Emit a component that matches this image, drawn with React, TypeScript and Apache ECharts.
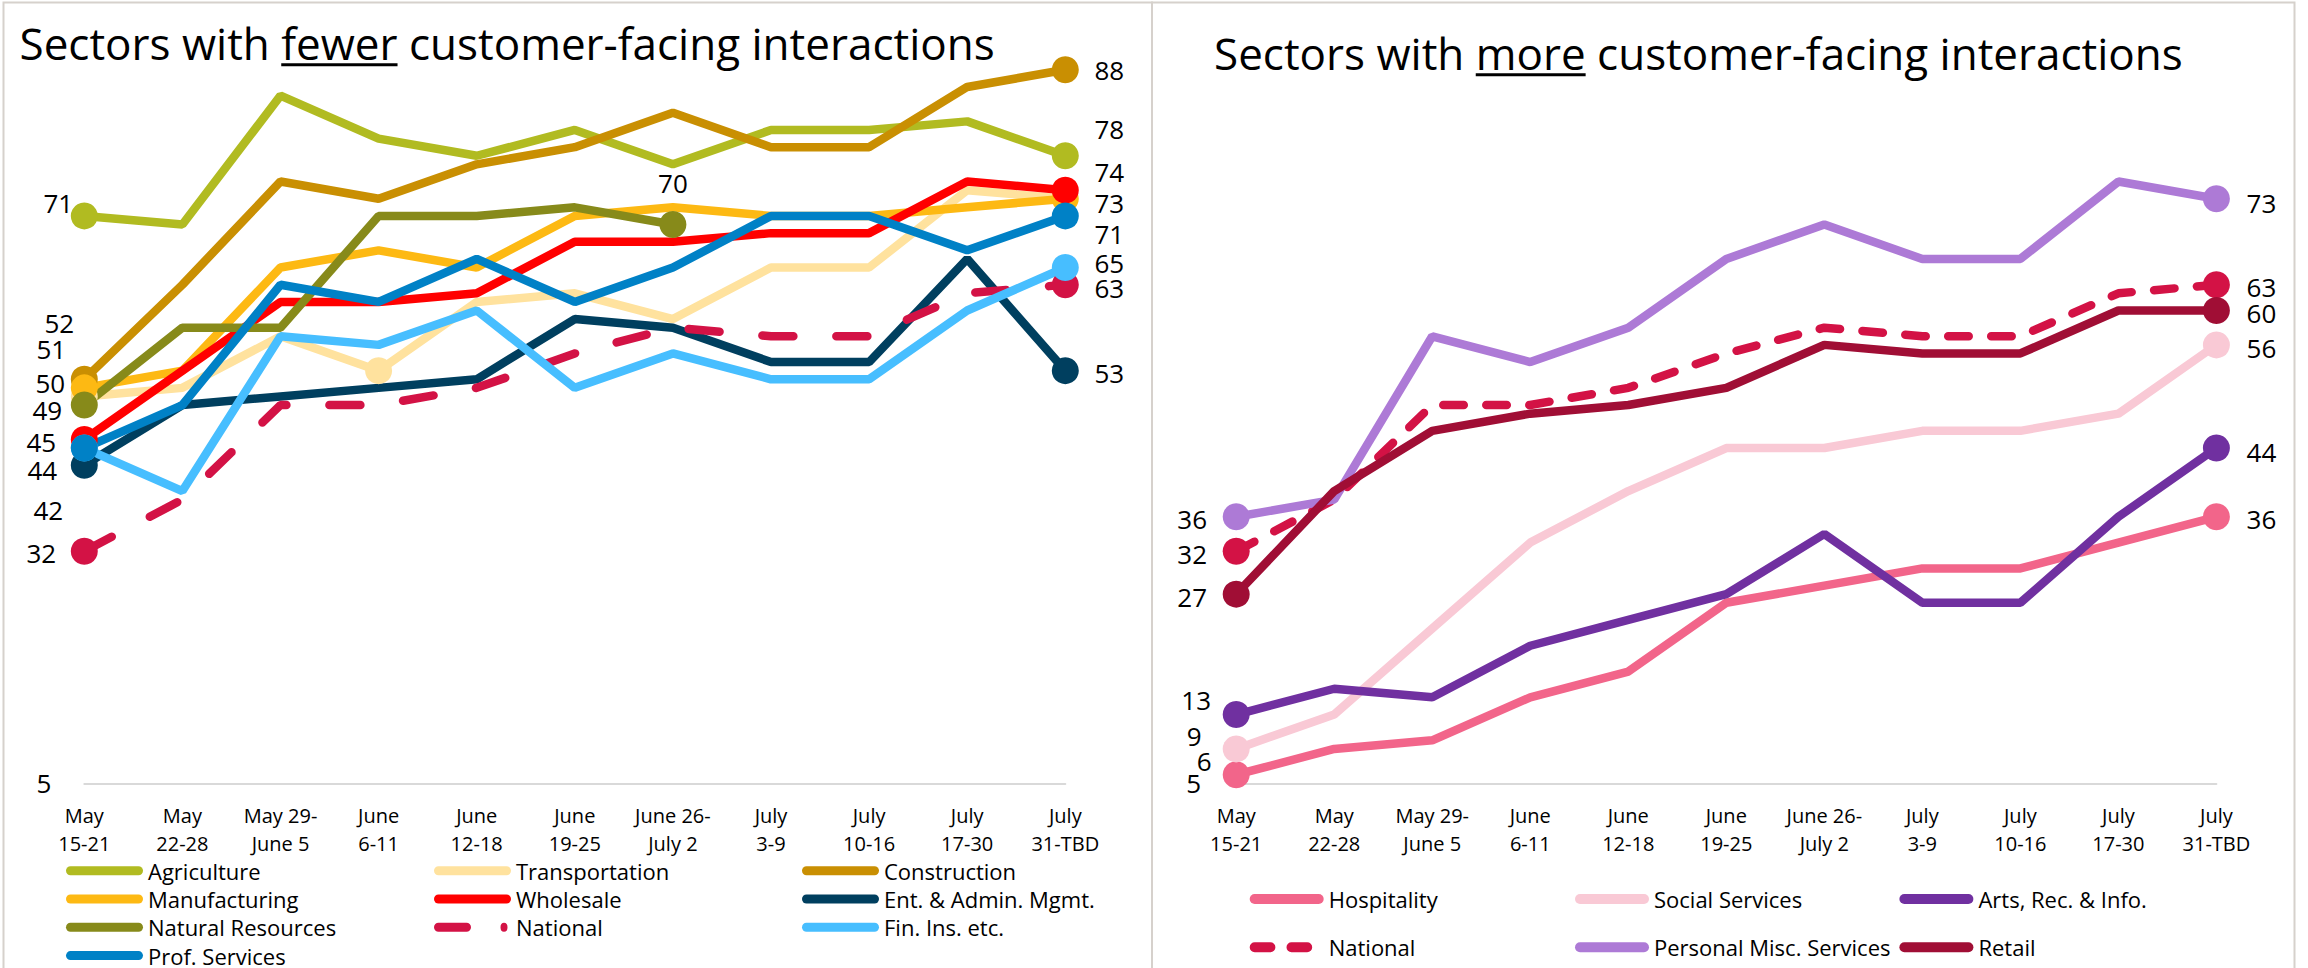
import React, { useEffect, useRef } from 'react';
import * as echarts from 'echarts';

// ---------- data ----------
const categories = [
  'May\n15-21', 'May\n22-28', 'May 29-\nJune 5', 'June\n6-11', 'June\n12-18', 'June\n19-25',
  'June 26-\nJuly 2', 'July\n3-9', 'July\n10-16', 'July\n17-30', 'July\n31-TBD',
];
const yTickLabels = [5];

// left panel: sectors with fewer customer-facing interactions
const agriculture = [71, 70, 85, 80, 78, 81, 77, 81, 81, 82, 78];
const transportation = [50, 51, 57, 53, 61, 62, 59, 65, 65, 74, 73];
const construction = [52, 63, 75, 73, 77, 79, 83, 79, 79, 86, 88];
const manufacturing = [51, 53, 65, 67, 65, 71, 72, 71, 71, 72, 73];
const wholesale = [45, 53, 61, 61, 62, 68, 68, 69, 69, 75, 74];
const entAdmin = [42, 49, 50, 51, 52, 59, 58, 54, 54, 66, 53];
const naturalResources = [49, 58, 58, 71, 71, 72, 70, null, null, null, null];
const national = [32, 38, 49, 49, 51, 55, 58, 57, 57, 62, 63];
const finIns = [44, 39, 57, 56, 60, 51, 55, 52, 52, 60, 65];
const profServices = [44, 49, 63, 61, 66, 61, 65, 71, 71, 67, 71];

// right panel: sectors with more customer-facing interactions
const hospitality = [6, 9, 10, 15, 18, 26, 28, 30, 30, 33, 36];
const socialServices = [9, 13, 23, 33, 39, 44, 44, 46, 46, 48, 56];
const artsRecInfo = [13, 16, 15, 21, 24, 27, 34, 26, 26, 36, 44];
const personalMisc = [36, 38, 57, 54, 58, 66, 70, 66, 66, 75, 73];
const retail = [27, 39, 46, 48, 49, 51, 56, 55, 55, 60, 60];

// ---------- styling ----------
const FONT = '"Open Sans", "Noto Sans", sans-serif';
const LINE_W = 8.5;
const MARK = 27;

type Mark = { i: number; dx?: number; dy?: number; label?: boolean };
type Spec = { name: string; data: (number | null)[]; color: string; dash?: number[]; marks: Mark[] };

const leftSpecs: Spec[] = [
  { name: 'Agriculture', data: agriculture, color: '#B1BB21', marks: [{ i: 0, dx: -26, dy: -13 }, { i: 10, dx: 44, dy: -27 }] },
  { name: 'Transportation', data: transportation, color: '#FFE29E', marks: [{ i: 0, dx: -34, dy: -13 }, { i: 3, label: false }] },
  { name: 'Construction', data: construction, color: '#C98F02', marks: [{ i: 0, dx: -25, dy: -56 }, { i: 10, dx: 44, dy: 0 }] },
  { name: 'Manufacturing', data: manufacturing, color: '#FDB913', marks: [{ i: 0, dx: -33, dy: -39 }, { i: 10, dx: 44, dy: 4 }] },
  { name: 'Wholesale', data: wholesale, color: '#FF0000', marks: [{ i: 0, dx: -43, dy: 3 }, { i: 10, dx: 44, dy: -18 }] },
  { name: 'Ent. & Admin. Mgmt.', data: entAdmin, color: '#003F5F', marks: [{ i: 0, dx: -36, dy: 45 }, { i: 10, dx: 44, dy: 2 }] },
  { name: 'Natural Resources', data: naturalResources, color: '#878A1A', marks: [{ i: 0, dx: -37, dy: 5 }, { i: 6, dx: 0, dy: -42 }] },
  { name: 'National', data: national, color: '#D31245', dash: [31, 43], marks: [{ i: 0, dx: -43, dy: 2 }, { i: 10, dx: 44, dy: 3 }] },
  { name: 'Fin. Ins. etc.', data: finIns, color: '#47BEFF', marks: [{ i: 0, label: false }, { i: 10, dx: 44, dy: -5 }] },
  { name: 'Prof. Services', data: profServices, color: '#0081C6', marks: [{ i: 0, dx: -42, dy: 22 }, { i: 10, dx: 44, dy: 18 }] },
];

const rightSpecs: Spec[] = [
  { name: 'Hospitality', data: hospitality, color: '#F2658A', marks: [{ i: 0, dx: -32, dy: -14 }, { i: 10, dx: 45, dy: 2 }] },
  { name: 'Social Services', data: socialServices, color: '#F9C9D5', marks: [{ i: 0, dx: -42, dy: -13 }, { i: 10, dx: 45, dy: 3 }] },
  { name: 'Arts, Rec. & Info.', data: artsRecInfo, color: '#7030A0', marks: [{ i: 0, dx: -40, dy: -15 }, { i: 10, dx: 45, dy: 4 }] },
  { name: 'National', data: national, color: '#D31245', dash: [20.5, 22.5], marks: [{ i: 0, dx: -44, dy: 3 }, { i: 10, dx: 45, dy: 2 }] },
  { name: 'Personal Misc. Services', data: personalMisc, color: '#AD7AD6', marks: [{ i: 0, dx: -44, dy: 2 }, { i: 10, dx: 45, dy: 4 }] },
  { name: 'Retail', data: retail, color: '#A00E35', marks: [{ i: 0, dx: -44, dy: 3 }, { i: 10, dx: 45, dy: 3 }] },
];

const leftLegendCols = [
  ['Agriculture', 'Manufacturing', 'Natural Resources', 'Prof. Services'],
  ['Transportation', 'Wholesale', 'National'],
  ['Construction', 'Ent. & Admin. Mgmt.', 'Fin. Ins. etc.'],
];
const rightLegendCols = [
  ['Hospitality', 'National'],
  ['Social Services', 'Personal Misc. Services'],
  ['Arts, Rec. & Info.', 'Retail'],
];

const ICON_L = 'path://M4.5,0H72.5A4.5,4.5,0,0,1,72.5,9H4.5A4.5,4.5,0,0,1,4.5,0Z';
const ICON_L_NAT = 'path://M4.5,0H32.5A4.5,4.5,0,0,1,32.5,9H4.5A4.5,4.5,0,0,1,4.5,0ZM70,0A3.5,4.5,0,0,1,70,9A3.5,4.5,0,0,1,70,0ZM77,4.5';
const ICON_R = 'path://M5,0H69A5,5,0,0,1,69,10H5A5,5,0,0,1,5,0Z';
const ICON_R_NAT = 'path://M5,0H20.7A5,5,0,0,1,20.7,10H5A5,5,0,0,1,5,0ZM41.8,0H57.5A5,5,0,0,1,57.5,10H41.8A5,5,0,0,1,41.8,0ZM74,5';

function textWidth(s: string, font: string): number {
  const ctx = document.createElement('canvas').getContext('2d');
  if (!ctx) return s.length * 20;
  ctx.font = font;
  return ctx.measureText(s).width;
}

function buildSeries(specs: Spec[], gridIndex: number) {
  return specs.map((s) => ({
    type: 'line',
    name: s.name,
    xAxisIndex: gridIndex,
    yAxisIndex: gridIndex,
    symbol: 'none',
    showSymbol: true,
    showAllSymbol: true,
    clip: false,
    silent: true,
    emphasis: { disabled: true },
    lineStyle: { color: s.color, width: LINE_W, type: s.dash ? s.dash : 'solid', cap: s.dash ? 'round' : 'butt' },
    itemStyle: { color: s.color, borderWidth: 0 },
    label: { show: false, fontFamily: FONT, fontSize: 26, color: '#000' },
    data: s.data.map((v, i) => {
      const m = s.marks.find((k) => k.i === i);
      if (!m || v === null) return v;
      return {
        value: v,
        symbol: 'circle',
        symbolSize: MARK,
        label: m.label === false
          ? { show: false }
          : { show: true, position: 'inside', offset: [m.dx || 0, m.dy || 0], align: 'center', verticalAlign: 'middle' },
      };
    }),
  }));
}

function buildLegends(cols: string[][], lefts: number[], top: number, gap: number, right: boolean) {
  return cols.map((names, c) => ({
    orient: 'vertical',
    left: lefts[c],
    top,
    width: 360,
    height: 400,
    padding: 0,
    itemWidth: right ? 74 : 77,
    itemHeight: right ? 10 : 9,
    itemGap: gap,
    selectedMode: false,
    symbolKeepAspect: true,
    itemStyle: { borderWidth: 0 },
    textStyle: { fontFamily: FONT, fontSize: 22, color: '#000' },
    data: names.map((n) => ({
      name: n,
      icon: n === 'National' ? (right ? ICON_R_NAT : ICON_L_NAT) : (right ? ICON_R : ICON_L),
    })),
  }));
}

const GRID_TOP = 52.6;
const GRID_H = 730.7;

export default function App() {
  const ref = useRef<HTMLDivElement>(null);

  useEffect(() => {
    document.body.style.margin = '0';
    if (!ref.current) return;
    const chart = echarts.init(ref.current, null, { renderer: 'svg', width: 2308, height: 968 });

    const TITLE_SIZE = 44;
    const titleFont = `${TITLE_SIZE}px "Open Sans"`;
    const titles = [
      { pre: 'Sectors with ', key: 'fewer', post: ' customer-facing interactions', x: 19.5, baseline: 60 },
      { pre: 'Sectors with ', key: 'more', post: ' customer-facing interactions', x: 1214, baseline: 70 },
    ];
    const graphics: any[] = [
      { type: 'rect', z: 0, shape: { x: 3.5, y: 2.5, width: 1148.5, height: 1000 }, style: { fill: 'none', stroke: '#D6D1CC', lineWidth: 2 } },
      { type: 'rect', z: 0, shape: { x: 1152, y: 2.5, width: 1142.5, height: 1000 }, style: { fill: 'none', stroke: '#D6D1CC', lineWidth: 2 } },
    ];
    titles.forEach((t) => {
      const wPre = textWidth(t.pre, titleFont);
      const wKey = textWidth(t.key, titleFont);
      graphics.push({
        type: 'text',
        x: t.x,
        y: t.baseline - 0.388 * TITLE_SIZE,
        style: { text: t.pre + t.key + t.post, fontFamily: FONT, fontSize: TITLE_SIZE, fill: '#000', align: 'left', verticalAlign: 'middle' },
      });
      graphics.push({
        type: 'rect',
        shape: { x: t.x + wPre, y: t.baseline + 3.2, width: wKey, height: 3 },
        style: { fill: '#000' },
      });
    });

    const xAxisBase = {
      type: 'category',
      data: categories,
      boundaryGap: false,
      axisLine: { show: true, lineStyle: { color: '#D9D9D9', width: 2 } },
      axisTick: { show: false },
      splitLine: { show: false },
      axisLabel: { interval: 0, fontFamily: FONT, fontSize: 20, lineHeight: 28, color: '#000', margin: 18 },
    };
    const yAxisBase = {
      type: 'value',
      min: 5,
      max: 90,
      splitLine: { show: false },
      axisLine: { show: false },
      axisTick: { show: false },
    };

    const option: any = {
      animation: false,
      backgroundColor: '#fff',
      textStyle: { fontFamily: FONT },
      graphic: graphics,
      grid: [
        { left: 84.3, top: GRID_TOP, width: 981, height: GRID_H },
        { left: 1236.2, top: GRID_TOP, width: 980.2, height: GRID_H },
      ],
      xAxis: [
        { ...xAxisBase, gridIndex: 0 },
        { ...xAxisBase, gridIndex: 1 },
      ],
      yAxis: [0, 1].map((g) => ({
        ...yAxisBase,
        gridIndex: g,
        axisLabel: {
          fontFamily: FONT,
          fontSize: 26,
          color: '#000',
          margin: g === 0 ? 33 : 35,
          formatter: (v: number) => (yTickLabels.indexOf(v) >= 0 ? String(v) : ''),
        },
      })),
      legend: [
        ...buildLegends(leftLegendCols, [66, 434, 802], 859.7, 6.3, false),
        ...buildLegends(rightLegendCols, [1249.7, 1575, 1899.4], 888, 26.3, true),
      ],
      series: [...buildSeries(leftSpecs, 0), ...buildSeries(rightSpecs, 1)],
    };

    chart.setOption(option);
    return () => chart.dispose();
  }, []);

  return (
    <div
      ref={ref}
      style={{ position: 'absolute', left: 0, top: 0, width: 2308, height: 968, background: '#fff' }}
    />
  );
}
